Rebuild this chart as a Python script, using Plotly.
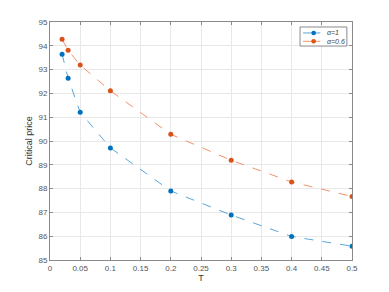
import plotly.graph_objects as go

T = [0.02, 0.03, 0.05, 0.1, 0.2, 0.3, 0.4, 0.5]
price_a1 = [93.65, 92.64, 91.21, 89.71, 87.90, 86.89, 85.99, 85.58]
price_a06 = [94.27, 93.81, 93.19, 92.11, 90.28, 89.19, 88.28, 87.67]
series_names = ["α=1", "α=0.6"]
line_colors = ["#5AA6DA", "#F0936A"]
marker_colors = ["#0072BD", "#D95319"]
x_ticks = [0, 0.05, 0.1, 0.15, 0.2, 0.25, 0.3, 0.35, 0.4, 0.45, 0.5]
x_tick_text = ["0", "0.05", "0.1", "0.15", "0.2", "0.25", "0.3", "0.35", "0.4", "0.45", "0.5"]
y_ticks = [85, 86, 87, 88, 89, 90, 91, 92, 93, 94, 95]

fig = go.Figure()
for ys, name, lc, mc in zip([price_a1, price_a06], series_names, line_colors, marker_colors):
    fig.add_trace(go.Scatter(
        x=T, y=ys, name=name, mode="lines+markers",
        line=dict(color=lc, width=1, dash="dash"),
        marker=dict(color=mc, size=5, symbol="circle"),
        showlegend=False,
    ))

axis_common = dict(
    showline=True, linecolor="#8a8a8a", linewidth=1, mirror="ticks",
    ticks="inside", ticklen=3, tickcolor="#8a8a8a",
    showgrid=True, gridcolor="#e8e8e8", gridwidth=1, zeroline=False,
    automargin=False,
    tickfont=dict(family="Liberation Sans, Arial", size=8, color="#555"),
)

# compact MATLAB-style legend box (paper coordinates)
legend_box = dict(x0=0.828, x1=0.983, y0=0.899, y1=0.979)
row_y = [0.954, 0.919]
shapes = [dict(type="rect", xref="paper", yref="paper", fillcolor="white",
               line=dict(color="#8a8a8a", width=1), **legend_box)]
annotations = []
for ry, name, lc, mc in zip(row_y, series_names, line_colors, marker_colors):
    shapes.append(dict(type="line", xref="paper", yref="paper",
                       x0=0.838, x1=0.895, y0=ry, y1=ry, line=dict(color=lc, width=1)))
    shapes.append(dict(type="circle", xref="paper", yref="paper",
                       xsizemode="pixel", ysizemode="pixel", xanchor=0.873, yanchor=ry,
                       x0=-2.3, x1=2.3, y0=-2.3, y1=2.3, fillcolor=mc, line=dict(width=0)))
    annotations.append(dict(xref="paper", yref="paper", x=0.91, y=ry, xanchor="left",
                            yanchor="middle", showarrow=False, text="<i>" + name + "</i>",
                            font=dict(family="Liberation Sans, Arial", size=7, color="#444")))

fig.update_layout(
    width=381, height=284,
    margin=dict(l=42, r=37, t=14, b=32),
    paper_bgcolor="white", plot_bgcolor="white",
    font=dict(family="Liberation Sans, Arial", size=8, color="#333"),
    xaxis=dict(range=[0, 0.5], tickvals=x_ticks, ticktext=x_tick_text,
               title=dict(text="T", font=dict(size=9, color="#333"), standoff=2), **axis_common),
    yaxis=dict(range=[85, 95], tickvals=y_ticks,
               title=dict(text="Critical price", font=dict(size=9, color="#333"), standoff=4), **axis_common),
    shapes=shapes,
    annotations=annotations,
    showlegend=False,
)

fig.write_html("out.html")
